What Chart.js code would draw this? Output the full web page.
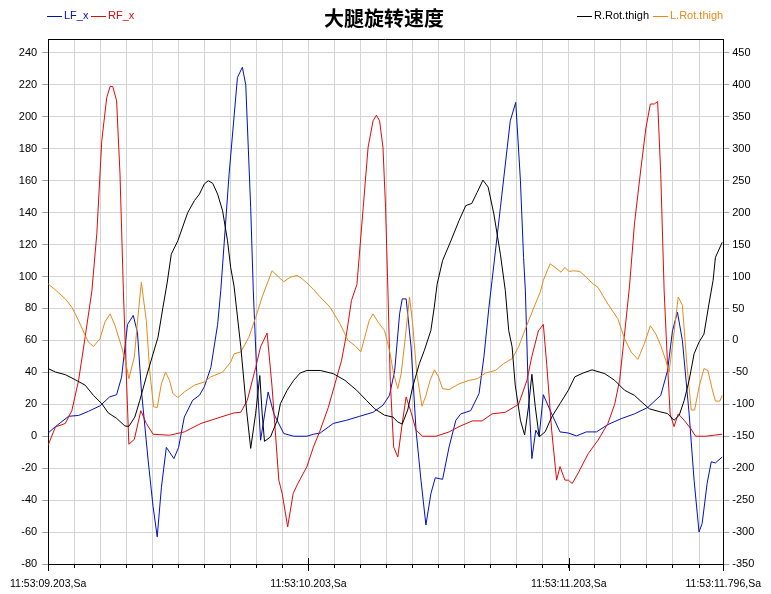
<!DOCTYPE html>
<html><head><meta charset="utf-8">
<script src="https://cdn.jsdelivr.net/npm/chart.js@4"></script>
<style>html,body{margin:0;padding:0;background:#fff}canvas{display:block}</style>
</head><body>
<canvas id="c" width="771" height="594"></canvas>
<script>
// ---- data (time in ms after 11:53:09.203) ----
const chartTitle = '大腿旋转速度';
const seriesNames = ['LF_x', 'RF_x', 'R.Rot.thigh', 'L.Rot.thigh'];

const lfT = [0,28,79,117,155,199,236,263,282,305,327,343,358,384,403,419,435,454,483,501,523,555,581,600,625,651,663,695,727,746,759,778,788,801,816,845,867,905,943,994,1019,1045,1095,1146,1197,1248,1286,1311,1331,1350,1360,1375,1394,1413,1432,1451,1470,1487,1515,1540,1566,1585,1623,1655,1674,1693,1705,1737,1775,1796,1814,1826,1833,1843,1858,1873,1886,1902,1934,1966,1998,2029,2067,2106,2150,2201,2252,2303,2353,2379,2398,2417,2436,2462,2481,2500,2512,2531,2547,2563,2589];
const lfV = [2,6,12.5,13,15.6,19,24.6,26,37,70,75.6,65,29,-15,-44,-63,-32,-7,-14,-7,12,22.5,25.6,31,43,70,91,164,224.6,231,220,143,91,40,-2.5,27.7,14,1.7,0,0,1.25,2,8,10,12.5,15,19.4,25.6,41,76.7,86,86,55.8,3.75,-27.5,-55.6,-36,-26,-27,-6.7,10,14,16,26.7,50,80.8,97.5,143,197.5,209,160,112,91,35,-14,3.75,0,26,14,2.7,2,0.2,2.7,2.7,7.3,11,14,18,25.6,41,66,77.7,60,14,-27.5,-60,-54.6,-29.6,-16,-16.7,-13];

const rfT = [0,28,66,91,117,142,168,187,206,225,238,248,263,276,289,301,310,331,356,377,403,466,523,587,663,714,740,765,797,816,841,860,886,899,920,941,956,994,1019,1045,1076,1102,1127,1146,1165,1186,1210,1229,1248,1261,1273,1286,1296,1305,1314,1327,1343,1360,1375,1394,1413,1438,1490,1540,1578,1629,1667,1705,1756,1807,1839,1858,1883,1902,1915,1934,1953,1966,1985,1998,2013,2036,2074,2112,2150,2176,2195,2214,2233,2252,2277,2296,2313,2328,2341,2353,2366,2379,2389,2404,2420,2443,2468,2487,2525,2557,2589];
const rfV = [-5.6,5.8,8,16,35,62,91,127,185,212,219,219,210,164,91,35,-5,-2,16,8,1.25,0.6,2.7,8,12,14.6,15,22.5,43,56,64.6,31,-27.5,-36,-56.7,-36,-30.6,-19,-6.7,3.75,18,33,47.5,64,85,95,143,181,197.5,201,197.5,181,143,91,35,-6.7,-13,8,24.6,15,3.75,0,0,2.7,6,9.6,9.6,14,15,20,35,50,66,70,45,3.75,-27.5,-19,-27.5,-27.5,-29.6,-23,-11,-2.5,8,20,35,64,94,133,168,193,208,208,209.6,164,91,45,14,6,14,10,4.8,0,0,0.6,1.25];

const rrT = [0,28,66,104,142,174,206,231,263,295,310,333,352,377,403,422,441,457,473,498,536,562,581,600,615,632,651,670,689,701,714,740,762,778,797,813,822,831,854,880,892,918,943,968,994,1045,1095,1140,1185,1223,1254,1292,1324,1343,1360,1381,1400,1426,1445,1470,1483,1494,1515,1547,1578,1604,1627,1648,1670,1690,1712,1737,1756,1769,1782,1794,1814,1830,1845,1858,1871,1886,1909,1934,1966,1998,2023,2055,2089,2138,2176,2214,2252,2284,2309,2353,2379,2404,2424,2443,2462,2481,2500,2519,2538,2554,2563,2589];
const rrV = [-44,-49.5,-53.6,-61.5,-70,-86,-99,-113.5,-122,-134,-134.5,-120,-94,-57,-21,5,52,90,135,156,200,219,229,245,250,246,229,203,156,114.5,85,-10,-109,-169,-114.5,-55,-114.5,-158,-151,-125,-99,-78,-62.5,-51,-47,-47,-52,-62.5,-78,-94,-107,-117,-120,-127.6,-131,-109,-73,-36,-15.6,15.6,52,88,125,156,187.5,211,214.5,232,251,240,198,135,78,15.6,-10,-70,-125,-148,-104,-53,-104,-151,-143,-120,-99,-78,-57,-51,-46,-52,-62.5,-78,-86,-98,-107,-112,-114.5,-125,-117,-94,-62.5,-21,-2.6,10,57,94,130,153.6];

const llT = [0,28,66,91,117,142,155,174,199,218,238,257,282,299,310,331,346,358,377,390,405,419,435,451,466,479,498,523,562,600,625,670,701,714,740,771,797,822,841,860,879,905,930,956,968,994,1019,1045,1083,1121,1152,1178,1201,1216,1233,1248,1267,1292,1311,1327,1343,1356,1372,1388,1400,1416,1436,1451,1467,1484,1499,1515,1540,1578,1616,1648,1680,1718,1750,1782,1807,1833,1871,1890,1902,1928,1947,1970,1985,2000,2017,2042,2067,2093,2112,2150,2188,2214,2239,2265,2290,2313,2334,2353,2372,2385,2402,2420,2436,2453,2470,2483,2500,2519,2534,2550,2563,2580,2589];
const llV = [88.5,79,65,52,31,8,-2.6,-9.4,2.6,28.6,41.6,23,-10,-36,-60,-26,41.6,91,31,-47,-104,-105,-68,-49.5,-62.5,-83,-89.5,-80.7,-70,-65,-57,-49.5,-34,-21,-18,5,36,68,88.5,109,101.6,92,99,101.6,99,90,80,68,52,26,0,-8,-18,5,31,41.6,28.6,15.6,-15.6,-52,-75.5,-52,5,68,26,-52,-103,-86,-62.5,-46,-57,-75.5,-77,-68,-62.5,-60,-51,-47,-36,-28.6,-10,18,57,75.5,94,120,114.5,106.8,114.5,108,109,108,99,88.5,83,57,34,2.6,-18,-29.7,-5,23,10,-8,-31,-49.5,5,68,55,-36,-109,-109,-73,-44,-47,-75.5,-95,-95,-86];

// axis ticks
const leftTicks = [-80,-60,-40,-20,0,20,40,60,80,100,120,140,160,180,200,220,240];
const rightTicks = [-350,-300,-250,-200,-150,-100,-50,0,50,100,150,200,250,300,350,400,450];
const xGridValues = [0,100,200,300,400,500,600,700,800,900,1000,1100,1200,1300,1400,1500,1600,1700,1800,1900,2000,2100,2200,2300,2400,2500,2593];
const xMajorValues = [0,1000,2000,2593];
const xMajorLabels = ['11:53:09.203,Sa','11:53:10.203,Sa','11:53:11.203,Sa','11:53:11.796,Sa'];

const colors = {blue:'#0010c0', red:'#dc0a0a', black:'#000000', orange:'#e8891a'};

function zip(t, v){ const n=Math.min(t.length,v.length); const o=[]; for(let i=0;i<n;i++) o.push({x:t[i], y:v[i]}); return o; }

const FONT = '"Liberation Sans", Arial, sans-serif';

const decor = {
  id:'decor',
  afterDraw(chart){
    const ctx = chart.ctx, a = chart.chartArea, xs = chart.scales.x;
    ctx.save();
    ctx.strokeStyle = '#000'; ctx.lineWidth = 1;
    ctx.beginPath(); ctx.moveTo(a.left, a.top + 0.5); ctx.lineTo(a.right, a.top + 0.5); ctx.stroke();
    xMajorValues.forEach(v => {
      const px = Math.round(xs.getPixelForValue(v)) + 0.5;
      ctx.beginPath(); ctx.moveTo(px, a.bottom - 6); ctx.lineTo(px, a.bottom + 7); ctx.stroke();
    });
    ctx.fillStyle = '#000';
    ctx.font = 'bold 20px "Noto Sans CJK SC", sans-serif';
    ctx.textAlign = 'center'; ctx.textBaseline = 'middle';
    ctx.fillText(chartTitle, 384, 18);
    ctx.font = '11px ' + FONT; ctx.textAlign = 'left';
    const items = [
      {x:47, c:colors.blue, t:seriesNames[0]},
      {x:91, c:colors.red, t:seriesNames[1]},
      {x:577, c:colors.black, t:seriesNames[2]},
      {x:653, c:colors.orange, t:seriesNames[3]}
    ];
    items.forEach(it => {
      ctx.strokeStyle = it.c; ctx.fillStyle = it.c;
      ctx.beginPath(); ctx.moveTo(it.x, 16.5); ctx.lineTo(it.x + 15, 16.5); ctx.stroke();
      ctx.fillText(it.t, it.x + 17, 16);
    });
    ctx.restore();
  }
};

new Chart(document.getElementById('c'), {
  type:'line',
  data:{ datasets:[
    {label:seriesNames[2], data:zip(rrT,rrV), borderColor:colors.black, yAxisID:'y1'},
    {label:seriesNames[3], data:zip(llT,llV), borderColor:colors.orange, yAxisID:'y1'},
    {label:seriesNames[1], data:zip(rfT,rfV), borderColor:colors.red, yAxisID:'y'},
    {label:seriesNames[0], data:zip(lfT,lfV), borderColor:colors.blue, yAxisID:'y'}
  ]},
  options:{
    responsive:false, animation:false, devicePixelRatio:1,
    layout:{padding:{top:39,left:0,right:0,bottom:0}},
    plugins:{legend:{display:false}, title:{display:false}, tooltip:{enabled:false}},
    elements:{line:{borderWidth:1, tension:0, fill:false}, point:{radius:0, hoverRadius:0}},
    scales:{
      x:{type:'linear', min:0, max:2593,
        afterBuildTicks:s=>{ s.ticks = xGridValues.map(v=>({value:v})); },
        afterFit:s=>{ s.height = 30; },
        ticks:{autoSkip:false, maxRotation:0, minRotation:0, padding:10, color:'#000', font:{family:FONT, size:10.5},
          callback:(v)=>{ const i = xMajorValues.indexOf(v); return i>=0 ? xMajorLabels[i] : ''; }},
        grid:{color:'#d4d4d4', tickColor:'#000', tickLength:4},
        border:{color:'#000'}
      },
      y:{position:'left', min:-80, max:248.7,
        afterBuildTicks:s=>{ s.ticks = leftTicks.map(v=>({value:v})); },
        afterFit:s=>{ s.width = 46; },
        ticks:{padding:5, color:'#000', font:{family:FONT, size:11}},
        grid:{color:'#d4d4d4', tickColor:'#a0a0a0', tickLength:6},
        border:{color:'#000'}
      },
      y1:{position:'right', min:-350, max:471.9,
        afterBuildTicks:s=>{ s.ticks = rightTicks.map(v=>({value:v})); },
        afterFit:s=>{ s.width = 45; },
        ticks:{padding:3, color:'#000', font:{family:FONT, size:11}},
        grid:{drawOnChartArea:false, tickColor:'#a0a0a0', tickLength:6},
        border:{color:'#000'}
      }
    }
  },
  plugins:[decor]
});
</script>
</body></html>
